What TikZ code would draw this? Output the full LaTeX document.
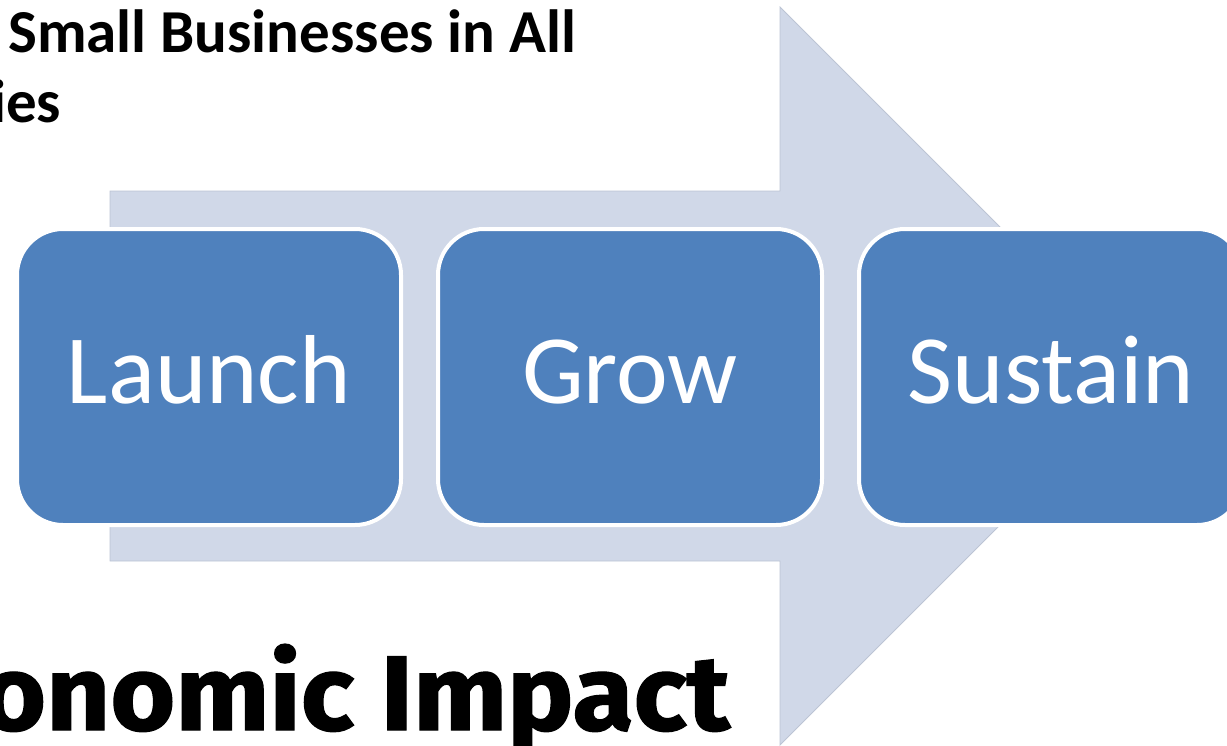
\documentclass[tikz,border=0pt]{standalone}
\usepackage{fontspec}
\setmainfont{Carlito}
\newfontfamily\impactfont[FakeBold=1.2]{Fira Sans}
\usetikzlibrary{positioning}
\definecolor{stageblue}{HTML}{4F81BD}
\definecolor{arrowfill}{HTML}{D0D8E8}
\definecolor{arrowedge}{HTML}{BCC4D4}
\tikzset{
    stage/.style={draw=white, line width=4pt, fill=stageblue, rounded corners=46pt,
        minimum width=384pt, minimum height=296pt, inner sep=0pt,
        text=white, text height=68pt, text depth=16pt,
        font=\fontsize{98}{110}\selectfont},
    heading/.style={inner sep=0pt, font=\bfseries\fontsize{61}{72}\selectfont},
}

\begin{document}
\begin{tikzpicture}[x=1pt,y=-1pt]
    \useasboundingbox (0,0) rectangle (1227,745);
    \clip (0,0) rectangle (1227,745);
    % big arrow behind the stages
    \filldraw[fill=arrowfill, draw=arrowedge, line width=0.8pt] (110,191) -- (780,191) -- (780,7) -- (1149,376) -- (780,745) -- (780,561) -- (110,561) -- cycle;
    \node[stage] (launch) at (209,377) {Launch};
    \node[stage, right=33pt of launch] (grow) {Grow};
    \node[stage, right=33pt of grow] (sustain) {Sustain};
    \node[heading, anchor=base west] (title) at (8,52) {Small Businesses in All};
    \node[heading, anchor=base west] (titleend) at (-9,122) {ies};
    \node[inner sep=0pt, anchor=base east, xscale=1.05, font=\impactfont\bfseries\fontsize{106}{120}\selectfont] (impact) at (730,730) {onomic Impact};
\end{tikzpicture}
\end{document}
